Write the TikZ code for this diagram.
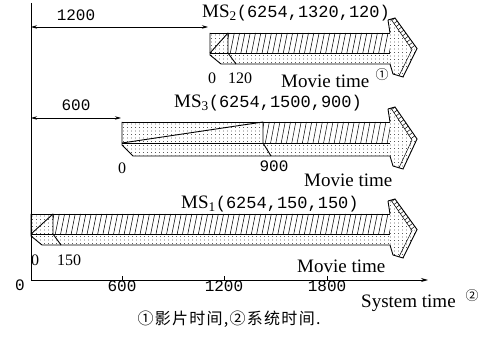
\documentclass[tikz,border=0pt]{standalone}
\usepackage{fontspec}
\setmainfont{Liberation Serif}
\setmonofont{Liberation Mono}
\newfontfamily\cjkcap[LetterSpace=8]{Noto Sans CJK SC}
\newfontfamily\cjk{Noto Sans CJK SC}
\usetikzlibrary{arrows.meta,calc}

\tikzset{
  outl/.style={line width=0.9pt},
  hatch/.style={line width=0.5pt},
  dimarrow/.style={line width=0.7pt,{Stealth[length=6pt,width=3.5pt]}-{Stealth[length=6pt,width=3.5pt]}},
  numlbl/.style={font=\fontsize{16}{16}\selectfont\ttfamily, inner sep=0pt},
  smallnum/.style={font=\fontsize{16}{16}\selectfont, inner sep=0pt},
  wordlbl/.style={font=\fontsize{19}{19}\selectfont, inner sep=0pt},
  circnum/.style={font=\fontsize{13}{13}\selectfont\cjk, inner sep=0pt},
}

\newcommand\dotgrid[4]{% x0,y0,x1,y1 grid of dots
  \pgfmathsetmacro\dxa{#1}\pgfmathsetmacro\dxb{#1+4}\pgfmathsetmacro\dxe{#3}%
  \pgfmathsetmacro\dya{#2}\pgfmathsetmacro\dyb{#2+3.5}\pgfmathsetmacro\dye{#4}%
  \foreach \yy in {\dya,\dyb,...,\dye}{\foreach \xx in {\dxa,\dxb,...,\dxe}{\fill (\xx,\yy) circle (0.42pt);}}%
}

\newcommand\barMS[5]{%
  \pgfmathsetmacro\xa{#1}%
  \pgfmathsetmacro\xo{#2}%
  \pgfmathsetmacro\yt{#3}%
  \pgfmathsetmacro\ym{#4}%
  \pgfmathsetmacro\yb{#5}%
  \def\xe{390}%
  \pgfmathsetmacro\yc{(\yt+\yb)/2}%
  \pgfmathsetmacro\xch{\xa+11}%
  \pgfmathsetmacro\ymm{\ym+2}%
  \fill[white] (\xa,\yt) -- (\xe,\yt) -- (\xe,\yb) -- (\xch,\yb) -- (\xa,\ymm) -- cycle;
  % dotted played part of the upper band
  \begin{scope}
    \clip (\xa,\yt) rectangle (\xo,\ym);
    \dotgrid{\xa+1.5}{\yt+2}{\xo}{\ym}
  \end{scope}
  % hatched rest of the upper band
  \begin{scope}
    \clip (\xo,\yt) rectangle (\xe,\ym);
    \pgfmathsetmacro\hxa{\xo-3}\pgfmathsetmacro\hxb{\xo+2.3}%
    \foreach \xx in {\hxa,\hxb,...,\xe}{\draw[hatch] (\xx,\ym) -- ++(4,{\yt-\ym});}
  \end{scope}
  % dotted lower band
  \begin{scope}
    \clip (\xa,\ym) -- (\xe,\ym) -- (\xe,\yb) -- (\xch,\yb) -- (\xa,\ymm) -- cycle;
    \dotgrid{\xa+1.5}{\ym+2.5}{\xe}{\yb}
  \end{scope}
  % outlines
  \draw[outl] (\xa,\yt) -- (\xe,\yt);
  \draw[outl] (\xe,\yb) -- (\xch,\yb) -- (\xa,\ymm) -- (\xa,\yt);
  \draw[outl] (\xa,\ym) -- (\xe,\ym);
  \draw[outl] (\xa,\ym) -- (\xo,\yt);
  \draw[outl] (\xo,\yt) -- (\xo,\ym) -- ++(8,{\yb-\ym});
  % arrow head
  \coordinate (P1) at ({\xe-2},{\yt-13});
  \coordinate (P2) at ({\xe+5},{\yt-15});
  \coordinate (P3) at ({\xe+27},{\yc});
  \coordinate (P4) at ({\xe+13},{\yb+13});
  \coordinate (P5) at ({\xe+3},{\yb+10});
  \coordinate (I1) at ({\xe+1},{\yt-13.8});
  \coordinate (I2) at ({\xe+22},{\yc+1});
  \coordinate (I3) at ({\xe+9},{\yb+11.8});
  \fill[white] (P1) -- (P2) -- (P3) -- (P4) -- (P5) -- (\xe,\yb) -- (\xe,\yt) -- cycle;
  \begin{scope}
    \clip (P1) -- (I1) -- (I2) -- (P3) -- (P4) -- (P5) -- (\xe,\yb) -- (\xe,\yt) -- cycle;
    \dotgrid{\xe+0.5}{\yt-12}{\xe+27}{\yb+14}
  \end{scope}
  \begin{scope}
    \clip (I1) -- (P2) -- (P3) -- (I2) -- cycle;
    \foreach \s in {0,0.1,...,1.05}{\draw[hatch] ($(P2)!\s!(P3)+(4,-3)$) -- ++(-12,9);}
  \end{scope}
  \draw[outl] (P1) -- (P2) -- (P3) -- (P4) -- (P5) -- (\xe,\yb);
  \draw[outl] (\xe,\yt) -- (P1);
  \draw[hatch] (I1) -- (I2) -- (I3);
}

\begin{document}
\begin{tikzpicture}[x=1pt,y=-1pt]
\useasboundingbox (0,0) rectangle (490,339);
\fill[white] (0,0) rectangle (490,339);

% bars
\barMS{210}{228}{33}{53}{64}
\barMS{122}{263}{122}{143}{156}
\barMS{31}{53}{214}{234}{245}

% axes
\coordinate (ytop) at (31,3);
\coordinate (orig) at (31,280);
\coordinate (xend) at (428,280);
\draw[outl,-{Stealth[length=7pt,width=4pt]}] (ytop) -- (orig) -- (xend);
\foreach \tx in {122,224,327}{\draw[outl] (\tx,280) -- (\tx,276);}

% offset dimension arrows
\coordinate (d1a) at (31,27);
\coordinate (d1b) at (208,27);
\coordinate (d2a) at (31,118);
\coordinate (d2b) at (121,118);
\draw[dimarrow] (d1a) -- (d1b);
\draw[dimarrow] (d2a) -- (d2b);
\node[numlbl] (t1200) at (76,15) {1200};
\node[numlbl] (t600) at (76,105) {600};

% MS2
\node[anchor=west, inner sep=0pt] (ms2) at (202,13)
  {\fontsize{19}{19}\selectfont MS\textsubscript{2}\fontsize{17}{17}\selectfont\ttfamily(6254,1320,120)};
\node[smallnum] (ms2z) at (212,78) {0};
\node[smallnum] (ms2o) at (240,78) {120};
\node[wordlbl, anchor=west] (mt2) at (281,81) {Movie time};
\node[circnum] (c1) at (382,75) {①};

% MS3
\node[anchor=west, inner sep=0pt] (ms3) at (174,103)
  {\fontsize{19}{19}\selectfont MS\textsubscript{3}\fontsize{17}{17}\selectfont\ttfamily(6254,1500,900)};
\node[smallnum] (ms3z) at (122,168) {0};
\node[numlbl] (ms3o) at (274,166) {900};
\node[wordlbl, anchor=west] (mt3) at (304,180) {Movie time};

% MS1
\node[anchor=west, inner sep=0pt] (ms1) at (181,204)
  {\fontsize{19}{19}\selectfont MS\textsubscript{1}\fontsize{17}{17}\selectfont\ttfamily(6254,150,150)};
\node[smallnum] (ms1z) at (35,260) {0};
\node[smallnum] (ms1o) at (69,260) {150};
\node[wordlbl, anchor=west] (mt1) at (297,266) {Movie time};

% system axis labels
\node[numlbl] (a0) at (20,285) {0};
\node[numlbl] (a600) at (122,286) {600};
\node[numlbl] (a1200) at (224,286) {1200};
\node[numlbl] (a1800) at (327,286) {1800};
\node[wordlbl, anchor=west] (st) at (361,303) {System time};
\node[circnum] (c2) at (472,296) {②};

% caption
\node[inner sep=0pt, font=\fontsize{16}{16}\selectfont\cjkcap] (cap) at (229,319) {①影片时间,②系统时间.};
\end{tikzpicture}
\end{document}
